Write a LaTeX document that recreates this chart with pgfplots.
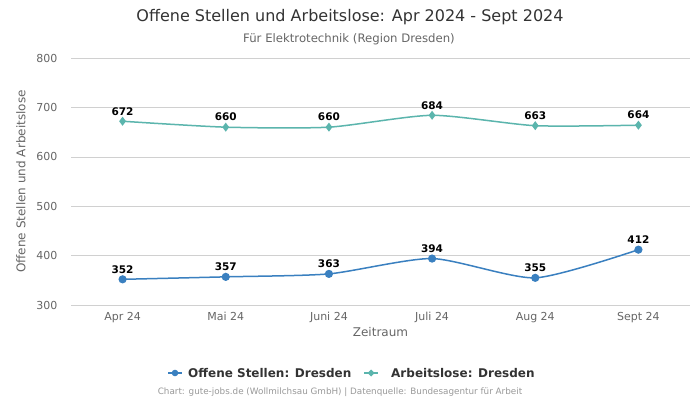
\documentclass[border=0pt]{standalone}
\usepackage{pgfplots}
\pgfplotsset{compat=1.18}
\usepackage{fontspec}
\setmainfont{DejaVu Sans}
\definecolor{cblue}{HTML}{3A80C0}
\definecolor{cteal}{HTML}{5BB5AD}
\definecolor{cgrid}{HTML}{D0D0D0}
\definecolor{ctick}{HTML}{666666}
\definecolor{ctitle}{HTML}{333333}
\definecolor{cfoot}{HTML}{999999}
\begin{document}
\begin{tikzpicture}[x=1pt,y=1pt]
\path[use as bounding box, fill=white] (0,0) rectangle (700,400);
\begin{axis}[
  at={(71pt,95pt)}, anchor=south west,
  scale only axis, width=619pt, height=247pt,
  xmin=-0.5, xmax=5.5, ymin=300, ymax=800,
  xtick={0,1,2,3,4,5},
  xticklabels={Apr 24,Mai 24,Juni 24,Juli 24,Aug 24,Sept 24},
  ytick={300,400,500,600,700,800},
  ymajorgrids, grid style={cgrid, line width=0.6pt},
  axis line style={draw=none},
  major tick length=0pt,
  tick label style={font=\fontsize{11}{13}\selectfont, text=ctick},
  /pgf/number format/assume math mode=true,
  xticklabel style={yshift=-4pt},
  yticklabel style={xshift=-10pt},
  xlabel={Zeitraum}, xlabel style={font=\fontsize{12}{14}\selectfont, text=ctick, yshift=3pt},
  ylabel={Offene Stellen und Arbeitslose}, ylabel style={font=\fontsize{12}{14}\selectfont, text=ctick, yshift=4pt},
  nodes near coords, nodes near coords style={font=\bfseries\fontsize{10.5}{12}\selectfont, text=black, yshift=2pt},
  clip=false,
]
\addplot[cblue, line width=1.5pt, smooth, tension=0.4, mark=*, mark size=3.3pt, mark options={fill=cblue}]
  coordinates {(0,352) (1,357) (2,363) (3,394) (4,355) (5,412)};
\addplot[cteal, line width=1.5pt, smooth, tension=0.4, mark=diamond*, mark size=3.3pt, mark options={fill=cteal}]
  coordinates {(0,672) (1,660) (2,660) (3,684) (4,663) (5,664)};
\end{axis}
\node[font=\fontsize{16}{19}\selectfont, text=ctitle] at (350,383) {Offene Stellen und Arbeitslose: Apr 2024 - Sept 2024};
\node[font=\fontsize{11.7}{14}\selectfont, text=ctick] at (349,361) {Für Elektrotechnik (Region Dresden)};
\draw[cblue, line width=1.5pt] (168,27) -- (182,27);
\fill[cblue] (175,27) circle (3.3pt);
\node[anchor=west, inner sep=0pt, font=\bfseries\fontsize{12}{14}\selectfont, text=ctitle] at (188,27) {Offene Stellen: Dresden};
\draw[cteal, line width=1.5pt] (364,27) -- (378,27);
\fill[cteal] (371,30.5) -- (374.5,27) -- (371,23.5) -- (367.5,27) -- cycle;
\node[anchor=west, inner sep=0pt, font=\bfseries\fontsize{12}{14}\selectfont, text=ctitle] at (391,27) {Arbeitslose: Dresden};
\node[font=\fontsize{8.8}{10}\selectfont, text=cfoot] at (340,8) {Chart: gute-jobs.de (Wollmilchsau GmbH) | Datenquelle: Bundesagentur für Arbeit};
\end{tikzpicture}
\end{document}
